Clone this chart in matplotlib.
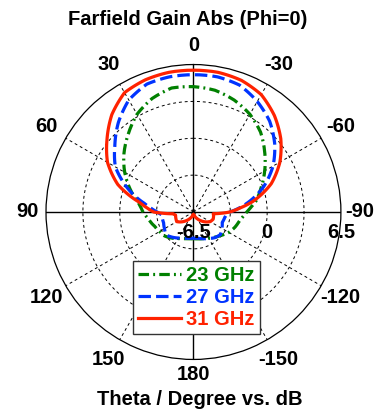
import matplotlib.pyplot as plt
import numpy as np

# far-field gain cut, phi = 0 (theta in degrees, gain in dB)
theta_deg = [-180, -170, -160, -150, -140, -130, -120, -110, -100, -95, -90, -85, -80,
             -70, -60, -50, -40, -30, -20, -10, 0, 10, 20, 30, 40, 50, 60, 70,
             80, 85, 90, 95, 100, 110, 120, 130, 140, 150, 160, 170, 180]

gain_23 = [-4.15, -4.1, -4.0, -3.85, -3.6, -3.3, -2.9, -2.6, -2.35, -2.1, -1.8, -1.4, -0.9,
           -0.15, 0.75, 1.7, 2.7, 3.45, 4.0, 4.4, 4.55, 4.6, 4.15, 3.45, 2.45, 1.5, 0.5, -0.55,
           -1.55, -1.85, -2.05, -2.3, -2.5, -2.85, -3.05, -3.2, -3.5, -3.8, -4.0, -4.1, -4.15]

gain_27 = [-4.2, -4.15, -4.0, -3.8, -3.55, -3.4, -3.6, -3.8, -3.7, -3.6, -3.3, -2.45, -1.6,
           0.1, 1.6, 2.85, 3.95, 4.75, 5.4, 5.6, 5.6, 5.6, 5.5, 4.9, 3.8, 2.55, 1.45, -0.3,
           -2.1, -2.75, -3.3, -3.7, -3.7, -3.7, -3.55, -3.35, -3.6, -3.85, -4.05, -4.15, -4.2]

gain_31 = [-6.25, -6.2, -6.05, -5.8, -5.5, -5.15, -4.8, -4.65, -4.7, -4.75, -3.3, -2.36, -1.2,
           0.8, 2.3, 3.55, 4.6, 5.45, 5.85, 6.0, 6.0, 6.0, 5.9, 5.65, 4.7, 3.45, 2.25, 0.6,
           -1.7, -2.4, -3.0, -4.7, -4.9, -4.85, -4.8, -5.15, -5.5, -5.8, -6.05, -6.2, -6.25]

series = ['23 GHz', '27 GHz', '31 GHz']
colors = ['#008000', '#0033ff', '#ff2200']
styles = [(0, (3.3, 1.3, 0.6, 1.3)), (0, (3.9, 1.6)), '-']

r_min, r_max = -6.5, 6.5
ring_values = [-3.25, 0, 3.25]
r_labels = ['-6.5', '0', '6.5']
angle_labels = [0, 30, 60, 90, 120, 150, 180, -150, -120, -90, -60, -30]

plt.rcParams['font.family'] = ['Liberation Sans', 'DejaVu Sans']
plt.rcParams['font.weight'] = 'bold'
fs = 14.5

fig = plt.figure(figsize=(3.84, 4.11), dpi=100)
ax = fig.add_axes([0.1198, 0.1253, 0.768, 0.7178], projection='polar')
ax.set_theta_zero_location('N')
ax.set_theta_direction(1)
ax.set_ylim(r_min, r_max)
ax.grid(False)
ax.set_xticks([])
ax.set_yticks([])
ax.spines['polar'].set_linewidth(0.9)
ax.spines['polar'].set_color('black')

# grid: dashed rings and spokes, solid main axes
full = np.linspace(0, 2 * np.pi, 361)
for rv in ring_values:
    ax.plot(full, [rv] * len(full), color='black', lw=0.7, ls=(0, (3, 3)), zorder=1)
for a in range(0, 360, 30):
    t = np.deg2rad(a)
    if a % 90 == 0:
        ax.plot([t, t], [r_min, r_max], color='black', lw=1.0, zorder=1)
    else:
        ax.plot([t, t], [r_min, r_max], color='black', lw=0.7, ls=(0, (3, 3)), zorder=1)

th = np.deg2rad(theta_deg)
for name, g, c, s in zip(series, [gain_23, gain_27, gain_31], colors, styles):
    ln, = ax.plot(th, g, color=c, ls=s, lw=2.3, label=name, zorder=3)
    # let the polar transform draw arcs between the read points
    ln.get_path()._interpolation_steps = 12

# angle labels just outside the outer circle
for a in angle_labels:
    if a == 180:
        rl = 7.85
    elif a % 90 == 0:
        rl = 8.15
    else:
        rl = 8.5
    ax.text(np.deg2rad(a), rl, str(a), ha='center', va='center', fontsize=fs,
            fontweight='bold', clip_on=False)

# radial labels under the right-hand horizontal axis
for rv, lab in zip([r_min, 0, r_max], r_labels):
    ax.annotate(lab, xy=(np.deg2rad(-90), rv), xytext=(0, -20.5), textcoords='offset pixels',
                ha='center', va='center', fontsize=fs, fontweight='bold', zorder=4,
                annotation_clip=False)

fig.text(0.488, 1 - 19.5 / 411, 'Farfield Gain Abs (Phi=0)', ha='center', va='center',
         fontsize=fs, fontweight='bold')
fig.text(0.519, 1 - 399 / 411, 'Theta / Degree vs. dB', ha='center', va='center',
         fontsize=fs, fontweight='bold')

leg = ax.legend(loc='center', bbox_to_anchor=(196.3 / 384, 1 - 297.3 / 411),
                bbox_transform=fig.transFigure, fontsize=fs, handlelength=2.15,
                handletextpad=0.25, labelspacing=0.15, borderpad=0.25, borderaxespad=0,
                fancybox=False, framealpha=1, edgecolor='#333333')
leg.get_frame().set_linewidth(1.0)
leg.set_zorder(10)
for txt, c in zip(leg.get_texts(), colors):
    txt.set_color(c)
    txt.set_fontweight('bold')

fig.savefig('out.png', dpi=100)
